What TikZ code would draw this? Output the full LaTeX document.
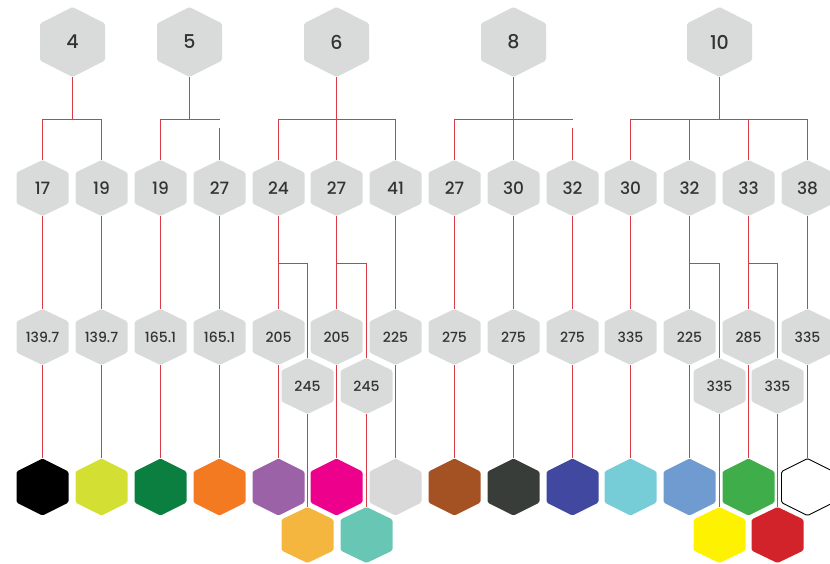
\documentclass[tikz,border=0pt]{standalone}
\usepackage{fontspec}
\setmainfont{Poppins}[UprightFont={* Medium}]
\usetikzlibrary{calc}
\definecolor{hexgray}{HTML}{D9DADA}
\definecolor{txt}{HTML}{333333}
\definecolor{linkred}{HTML}{DA3A45}
\definecolor{k0}{HTML}{000000}
\definecolor{k1}{HTML}{D4DF33}
\definecolor{k2}{HTML}{0A7F40}
\definecolor{k3}{HTML}{F47A22}
\definecolor{k4}{HTML}{9B62A8}
\definecolor{k5}{HTML}{EC008C}
\definecolor{k6}{HTML}{D8D9D8}
\definecolor{k7}{HTML}{A45124}
\definecolor{k8}{HTML}{383D3A}
\definecolor{k9}{HTML}{41489F}
\definecolor{k10}{HTML}{76CDD8}
\definecolor{k11}{HTML}{6F9BD0}
\definecolor{k12}{HTML}{40AD4B}
\definecolor{s4}{HTML}{F5B640}
\definecolor{s5}{HTML}{68C6B5}
\definecolor{s11}{HTML}{FFF200}
\definecolor{s12}{HTML}{D2232A}
\tikzset{
  hexlabel/.style={inner sep=0pt,text=txt},
  link/.style={draw=linkred,line width=1.6pt},
  bigfont/.style={font=\fontsize{19}{19}\selectfont},
  midfont/.style={font=\fontsize{17}{17}\selectfont},
  smallfont/.style={font=\fontsize{14}{14}\selectfont},
}
% name, x, y, half width, half side, half height, path options, node options, text
\newcommand\hexagon[9]{%
  \path[#7,shift={(#2,#3)},rounded corners=1.5pt] (0,-#6) -- (#4,-#5) -- (#4,#5) -- (0,#6) -- (-#4,#5) -- (-#4,-#5) -- cycle;
  \node[hexlabel,minimum width=#4*2pt,minimum height=#6*2pt,#8] (#1) at (#2,#3) {#9};}
\begin{document}
\begin{tikzpicture}[x=1pt,y=-1pt]
\useasboundingbox (0,0) rectangle (830,563);
\clip (0,0) rectangle (830,563);
% top row
\hexagon{t4}{72.5}{42}{32.5}{18.5}{35}{fill=hexgray}{bigfont}{4}
\hexagon{t5}{189.5}{42}{32.5}{18.5}{35}{fill=hexgray}{bigfont}{5}
\hexagon{t6}{336.5}{42}{32.5}{18.5}{35}{fill=hexgray}{bigfont}{6}
\hexagon{t8}{513.5}{42}{32.5}{18.5}{35}{fill=hexgray}{bigfont}{8}
\hexagon{t10}{719.5}{42}{32.5}{18.5}{35}{fill=hexgray}{bigfont}{10}
% second row
\foreach \i/\t in {0/17,1/19,2/19,3/27,4/24,5/27,6/41,7/27,8/30,9/32,10/30,11/32,12/33,13/38}{
  \pgfmathsetmacro\xx{round(42.3+58.8*\i)+0.5}
  \hexagon{a\i}{\xx}{188}{26}{15.5}{28}{fill=hexgray}{midfont}{\t}
}
% third row
\foreach \i/\t in {0/139.7,1/139.7,2/165.1,3/165.1,4/205,5/205,6/225,7/275,8/275,9/275,10/335,11/225,12/285,13/335}{
  \pgfmathsetmacro\xx{round(42.3+58.8*\i)+0.5}
  \hexagon{b\i}{\xx}{337}{26}{15.5}{28}{fill=hexgray}{smallfont}{\t}
}
% offset third row
\foreach \i/\t in {4/245,5/245,11/335,12/335}{
  \pgfmathsetmacro\xx{round(42.3+58.8*\i+29.4)+0.5}
  \hexagon{c\i}{\xx}{386}{26}{15.5}{28}{fill=hexgray}{smallfont}{\t}
}
% colour row
\foreach \i in {0,...,12}{
  \pgfmathsetmacro\xx{round(42.3+58.8*\i)+0.5}
  \hexagon{d\i}{\xx}{487}{26}{15.5}{28.5}{fill=k\i}{}{}
}
\hexagon{d13}{807.5}{487}{26}{15.5}{28.5}{fill=white,draw=black,line width=0.9pt}{}{}
\foreach \i in {4,5,11,12}{
  \pgfmathsetmacro\xx{round(42.3+58.8*\i+29.4)+0.5}
  \hexagon{e\i}{\xx}{535}{26}{15.5}{28}{fill=s\i}{}{}
}
% guide coordinates
\coordinate (busY) at (0,119.5);
\coordinate (gapY) at (0,128);
\coordinate (brY) at (0,263.5);
% group 4
\draw[link] (t4.south) -- (t4.south |- busY);
\draw[link] (a0.north) |- (a1.north |- busY) -- (a1.north);
% group 5
\draw[link] (t5.south) -- (t5.south |- busY);
\draw[link] (a2.north) |- (a3.north |- busY);
\draw[link] (a3.north) -- (a3.north |- gapY);
% group 6
\draw[link] (t6.south) -- (a5.north);
\draw[link] (a4.north) |- (a6.north |- busY) -- (a6.north);
% group 8
\draw[link] (t8.south) -- (a8.north);
\draw[link] (a7.north) |- (a9.north |- busY);
\draw[link] (a9.north) -- (a9.north |- gapY);
% group 10
\draw[link] (t10.south) -- (t10.south |- busY);
\draw[link] (a10.north) |- (a13.north |- busY) -- (a13.north);
\draw[link] (a11.north) -- (a11.north |- busY);
\draw[link] (a12.north) -- (a12.north |- busY);
% second to third row, third row to colours
\foreach \i in {0,...,13}{
  \draw[link] (a\i.south) -- (b\i.north);
  \draw[link] (b\i.south) -- (d\i.north);
}
\foreach \i in {4,5,11,12}{
  \draw[link] (b\i.north |- brY) -| (c\i.north);
  \draw[link] (c\i.south) -- (e\i.north);
}
\end{tikzpicture}
\end{document}
